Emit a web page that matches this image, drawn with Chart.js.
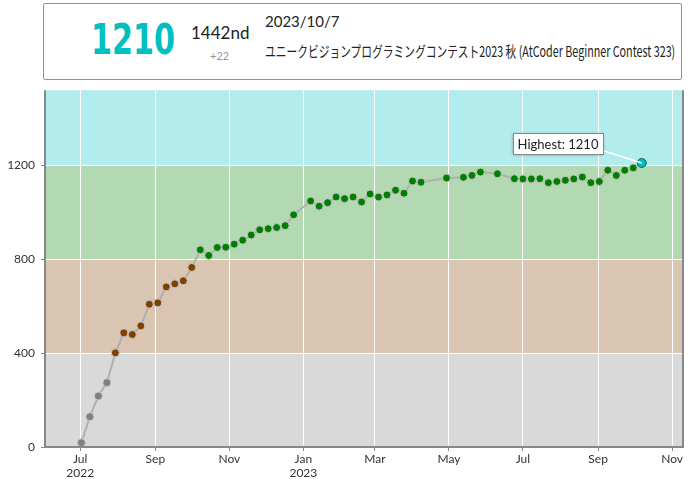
<!DOCTYPE html>
<html lang="ja">
<head>
<meta charset="UTF-8">
<title>Rating</title>
<script src="https://cdn.jsdelivr.net/npm/chart.js"></script>
<style>
  body { margin: 0; width: 691px; height: 479px; background: #fff; font-family: Lato, "Noto Sans", sans-serif; overflow: hidden; }
  .status { position: absolute; left: 43px; top: 3px; width: 637px; height: 75px; border: 1.5px solid #20c0c0; border-radius: 2px; }
  .rating { position: absolute; left: 47px; top: 13px; font-family: "DejaVu Sans", sans-serif; font-weight: bold; font-size: 42px; line-height: 46px; color: #00c0c0; transform: scaleX(0.72); transform-origin: left center; }
  .rank { position: absolute; left: 147px; top: 18px; font-size: 17px; color: #222; }
  .diff { position: absolute; left: 166px; top: 45px; font-size: 11px; color: #999; }
  .date { position: absolute; left: 221px; top: 8px; font-size: 15px; color: #222; }
  .title { position: absolute; left: 221px; top: 36px; font-family: "Noto Sans CJK JP", sans-serif; font-size: 15px; color: #222; white-space: nowrap; transform-origin: left center; }
  .chart { position: absolute; left: 0; top: 77px; width: 691px; height: 402px; }
</style>
</head>
<body>
<div class="status">
  <div class="rating">1210</div>
  <div class="rank">1442nd</div>
  <div class="diff">+22</div>
  <div class="date">2023/10/7</div>
  <div class="title" id="title">ユニークビジョンプログラミングコンテスト2023 秋 (AtCoder Beginner Contest 323)</div>
</div>
<div class="chart"><canvas id="ratingChart"></canvas></div>
<script>
const contestDates = [
  "2022-07-02", "2022-07-09", "2022-07-16", "2022-07-23", "2022-07-30", "2022-08-06", "2022-08-13", "2022-08-20",
  "2022-08-27", "2022-09-03", "2022-09-10", "2022-09-17", "2022-09-24", "2022-10-01", "2022-10-08", "2022-10-15",
  "2022-10-22", "2022-10-29", "2022-11-05", "2022-11-12", "2022-11-19", "2022-11-26", "2022-12-03", "2022-12-10",
  "2022-12-17", "2022-12-24", "2023-01-07", "2023-01-14", "2023-01-21", "2023-01-28", "2023-02-04", "2023-02-11",
  "2023-02-18", "2023-02-25", "2023-03-04", "2023-03-11", "2023-03-18", "2023-03-25", "2023-04-01", "2023-04-08",
  "2023-04-29", "2023-05-13", "2023-05-20", "2023-05-27", "2023-06-10", "2023-06-24", "2023-07-01", "2023-07-08",
  "2023-07-15", "2023-07-22", "2023-07-29", "2023-08-05", "2023-08-12", "2023-08-19", "2023-08-26", "2023-09-02",
  "2023-09-09", "2023-09-16", "2023-09-23", "2023-09-30", "2023-10-07"
];
const ratings = [
  18, 129, 217, 274, 401, 486, 479, 516,
  608, 614, 682, 695, 708, 765, 840, 816,
  850, 851, 864, 881, 903, 925, 930, 935,
  943, 989, 1048, 1026, 1041, 1065, 1058, 1065,
  1044, 1078, 1065, 1074, 1094, 1081, 1133, 1128,
  1146, 1149, 1157, 1171, 1164, 1143, 1142, 1142,
  1143, 1126, 1131, 1136, 1142, 1150, 1126, 1131,
  1179, 1157, 1179, 1189, 1210
];
const monthTicks = ["2022-07-01", "2022-09-01", "2022-11-01", "2023-01-01", "2023-03-01", "2023-05-01", "2023-07-01", "2023-09-01", "2023-11-01"];
const monthNames = ["Jan", "Feb", "Mar", "Apr", "May", "Jun", "Jul", "Aug", "Sep", "Oct", "Nov", "Dec"];
const yTicks = [0, 400, 800, 1200];
const bands = [
  { from: 0, to: 400, bg: "#d9d9d9", dot: "#808080" },
  { from: 400, to: 800, bg: "#d9c5b2", dot: "#804000" },
  { from: 800, to: 1200, bg: "#b2d9b2", dot: "#008000" },
  { from: 1200, to: 1600, bg: "#b2ecec", dot: "#00c0c0" }
];

// fit title to the header width
const t = document.getElementById("title");
t.style.transform = "scaleX(" + (410 / t.scrollWidth) + ")";

const toMs = s => Date.parse(s + "T00:00:00Z");
const points = contestDates.map((d, i) => ({ x: toMs(d), y: ratings[i] }));
const dotColor = v => bands.find(b => v >= b.from && v < b.to).dot;
const highIdx = ratings.indexOf(Math.max(...ratings));

const bandPlugin = {
  id: "bands",
  beforeDraw(chart) {
    const { ctx, chartArea: a, scales: { y } } = chart;
    ctx.save();
    bands.forEach(b => {
      const top = Math.max(y.getPixelForValue(b.to), a.top);
      const bot = Math.min(y.getPixelForValue(b.from), a.bottom);
      ctx.fillStyle = b.bg;
      ctx.fillRect(a.left, top, a.right - a.left, bot - top);
    });
    ctx.restore();
  },
  afterDraw(chart) {
    const { ctx, chartArea: a, scales: { x, y } } = chart;
    ctx.save();
    ctx.strokeStyle = "#888";
    ctx.lineWidth = 2;
    ctx.beginPath();
    ctx.moveTo(a.left, a.top); ctx.lineTo(a.left, a.bottom); ctx.lineTo(a.right, a.bottom); ctx.lineTo(a.right, a.top);
    ctx.stroke();
    // highest label
    const px = x.getPixelForValue(points[highIdx].x), py = y.getPixelForValue(points[highIdx].y);
    const bx = 513, by = 56, bw = 90, bh = 21;
    ctx.strokeStyle = "#fff"; ctx.lineWidth = 1.5;
    ctx.beginPath(); ctx.moveTo(bx + bw - 2, by + bh - 4); ctx.lineTo(px, py); ctx.stroke();
    ctx.shadowColor = "rgba(0,0,0,0.3)"; ctx.shadowBlur = 3; ctx.shadowOffsetY = 1;
    ctx.fillStyle = "#fff"; ctx.fillRect(bx, by, bw, bh);
    ctx.shadowColor = "transparent";
    ctx.strokeStyle = "#888"; ctx.lineWidth = 1; ctx.strokeRect(bx + 0.5, by + 0.5, bw, bh);
    ctx.fillStyle = "#222"; ctx.font = "13px Lato"; ctx.textAlign = "center"; ctx.textBaseline = "middle";
    ctx.fillText("Highest: " + ratings[highIdx], bx + bw / 2, by + bh / 2 + 1);
    ctx.restore();
  }
};

new Chart(document.getElementById("ratingChart"), {
  type: "line",
  data: {
    datasets: [{
      data: points,
      borderColor: "#b0b0b0",
      borderWidth: 2,
      pointRadius: ratings.map((v, i) => i === highIdx ? 4.5 : 4),
      pointBackgroundColor: ratings.map(dotColor),
      pointBorderColor: ratings.map((v, i) => i === highIdx ? "#206060" : "#c8c8c8"),
      pointBorderWidth: 1,
      tension: 0
    }]
  },
  options: {
    responsive: true,
    maintainAspectRatio: false,
    animation: false,
    layout: { padding: { top: 5, right: 8, left: 0, bottom: 0 } },
    plugins: { legend: { display: false }, tooltip: { enabled: false } },
    scales: {
      x: {
        type: "linear",
        min: toMs("2022-06-02"),
        max: toMs("2023-11-10"),
        afterBuildTicks: s => { s.ticks = monthTicks.map(d => ({ value: toMs(d) })); },
        afterFit: s => { s.height = 32; },
        grid: { color: "#ffffff", lineWidth: 1, drawTicks: true, tickLength: 4, tickColor: "#888" },
        border: { display: false },
        ticks: {
          color: "#333", font: { family: "Lato", size: 12 }, padding: 1, maxRotation: 0, autoSkip: false,
          callback: v => {
            const d = new Date(v), m = monthNames[d.getUTCMonth()];
            return d.getUTCMonth() === 0 || v === toMs(monthTicks[0]) ? [m, String(d.getUTCFullYear())] : m;
          }
        }
      },
      y: {
        min: 0,
        max: 1520,
        afterBuildTicks: s => { s.ticks = yTicks.map(v => ({ value: v })); },
        afterFit: s => { s.width = 45; },
        grid: { color: "#ffffff", lineWidth: 1, tickLength: 4, tickColor: "#888" },
        border: { display: false },
        ticks: { color: "#333", font: { family: "Lato", size: 12 }, padding: 6, callback: v => String(v) }
      }
    }
  },
  plugins: [bandPlugin]
});
</script>
</body>
</html>
